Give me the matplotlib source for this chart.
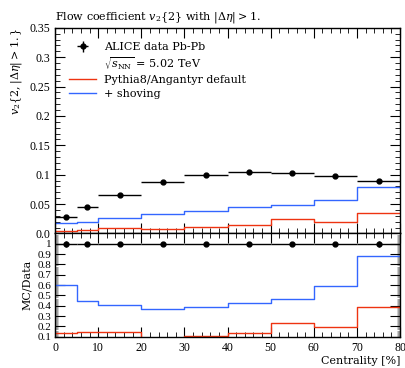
import numpy as np
import matplotlib.pyplot as plt
from matplotlib.lines import Line2D
from matplotlib.ticker import MultipleLocator, FixedLocator, FuncFormatter

plt.rcParams['font.family'] = ['DejaVu Serif']
plt.rcParams['mathtext.fontset'] = 'dejavuserif'

# centrality bins [%]
bin_edges = [0, 5, 10, 20, 30, 40, 50, 60, 70, 80]
data_v2 = [0.0286, 0.0456, 0.0655, 0.087, 0.099, 0.1046, 0.103, 0.0978, 0.0893]
data_err = [0.0008, 0.0008, 0.0008, 0.0008, 0.0008, 0.0008, 0.0008, 0.001, 0.0025]
angantyr = [0.0040, 0.0066, 0.0098, 0.0078, 0.0110, 0.0139, 0.0241, 0.0191, 0.0344]
shoving = [0.0172, 0.0203, 0.0266, 0.0324, 0.0385, 0.0444, 0.0482, 0.0577, 0.0786]

edges = np.array(bin_edges, dtype=float)
centers = 0.5 * (edges[:-1] + edges[1:])
half = 0.5 * np.diff(edges)
data = np.array(data_v2)
red_c = '#EE3311'
blue_c = '#3366FF'
tickfont = 'Liberation Serif'
fs = 8

fig = plt.figure(figsize=(4.06, 3.68), dpi=100)
ax = fig.add_axes([0.1355, 0.3655, 0.85, 0.559])
rax = fig.add_axes([0.1355, 0.085, 0.85, 0.2805], sharex=ax)

def step_vals(v):
    v = np.asarray(v)
    return np.append(v, v[-1])

eb = ax.errorbar(centers, data, xerr=half, yerr=data_err, fmt='o', color='black',
                 ms=3.5, lw=1.0, elinewidth=1.0, capsize=0, zorder=5)
ax.step(edges, step_vals(angantyr), where='post', color=red_c, lw=1.0)
ax.step(edges, step_vals(shoving), where='post', color=blue_c, lw=1.0)

ax.set_xlim(0, 80)
ax.set_ylim(0, 0.35)
ax.yaxis.set_major_locator(MultipleLocator(0.05))
ax.yaxis.set_minor_locator(MultipleLocator(0.01))
ax.xaxis.set_major_locator(MultipleLocator(10))
ax.xaxis.set_minor_locator(MultipleLocator(2))
ax.yaxis.set_major_formatter(FuncFormatter(lambda v, p: '0.0' if abs(v) < 1e-9 else ('%.2f' % v).rstrip('0')))
ax.tick_params(labelbottom=False)
ax.set_ylabel(r'$v_2\{2, |\Delta\eta| > 1.\}$', fontsize=fs, loc='top')
ax.set_title(r'Flow coefficient $v_2\{2\}$ with $|\Delta\eta| > 1.$', loc='left', fontsize=fs, pad=6)

blank = Line2D([], [], color='none')
h_red = Line2D([], [], color=red_c, lw=1.0)
h_blue = Line2D([], [], color=blue_c, lw=1.0)
ax.legend([eb, blank, h_red, h_blue],
          ['ALICE data Pb-Pb', r'$\sqrt{s_{\mathrm{NN}}}$ = 5.02 TeV',
           'Pythia8/Angantyr default', '+ shoving'],
          loc='upper left', frameon=False, fontsize=fs, handlelength=2.4,
          handletextpad=0.7, labelspacing=0.3, borderaxespad=0.9)

# ratio panel
rax.errorbar(centers, np.ones_like(data), xerr=half, yerr=np.array(data_err) / data,
             fmt='o', color='black', ms=3.5, lw=1.0, elinewidth=1.0, capsize=0, zorder=5)
rax.step(edges, step_vals(np.array(angantyr) / data), where='post', color=red_c, lw=1.0)
rax.step(edges, step_vals(np.array(shoving) / data), where='post', color=blue_c, lw=1.0)
rax.set_ylim(0.1, 1.1)
rax.yaxis.set_major_locator(FixedLocator([0.1, 0.2, 0.3, 0.4, 0.5, 0.6, 0.7, 0.8, 0.9, 1.0]))
rax.yaxis.set_minor_locator(MultipleLocator(0.01))
rax.yaxis.set_major_formatter(FuncFormatter(lambda v, p: '1' if abs(v - 1) < 1e-9 else '%.1f' % v))
rax.set_ylabel('MC/Data', fontsize=fs)
rax.set_xlabel('Centrality [%]', fontsize=fs, loc='right', labelpad=2)

for a in (ax, rax):
    a.tick_params(which='both', direction='in', top=True, right=True, labelsize=8.5,
                  labelfontfamily=tickfont)
    a.tick_params(which='major', length=7, width=0.8)
    a.tick_params(which='minor', length=3.5, width=0.6)
    for s in a.spines.values():
        s.set_linewidth(1.0)
rax.tick_params(axis='y', which='minor', length=2.5, width=0.4, color='#555555')
rax.tick_params(axis='y', which='major', labelsize=8, pad=2.5)

fig.savefig('out.png', dpi=100)
